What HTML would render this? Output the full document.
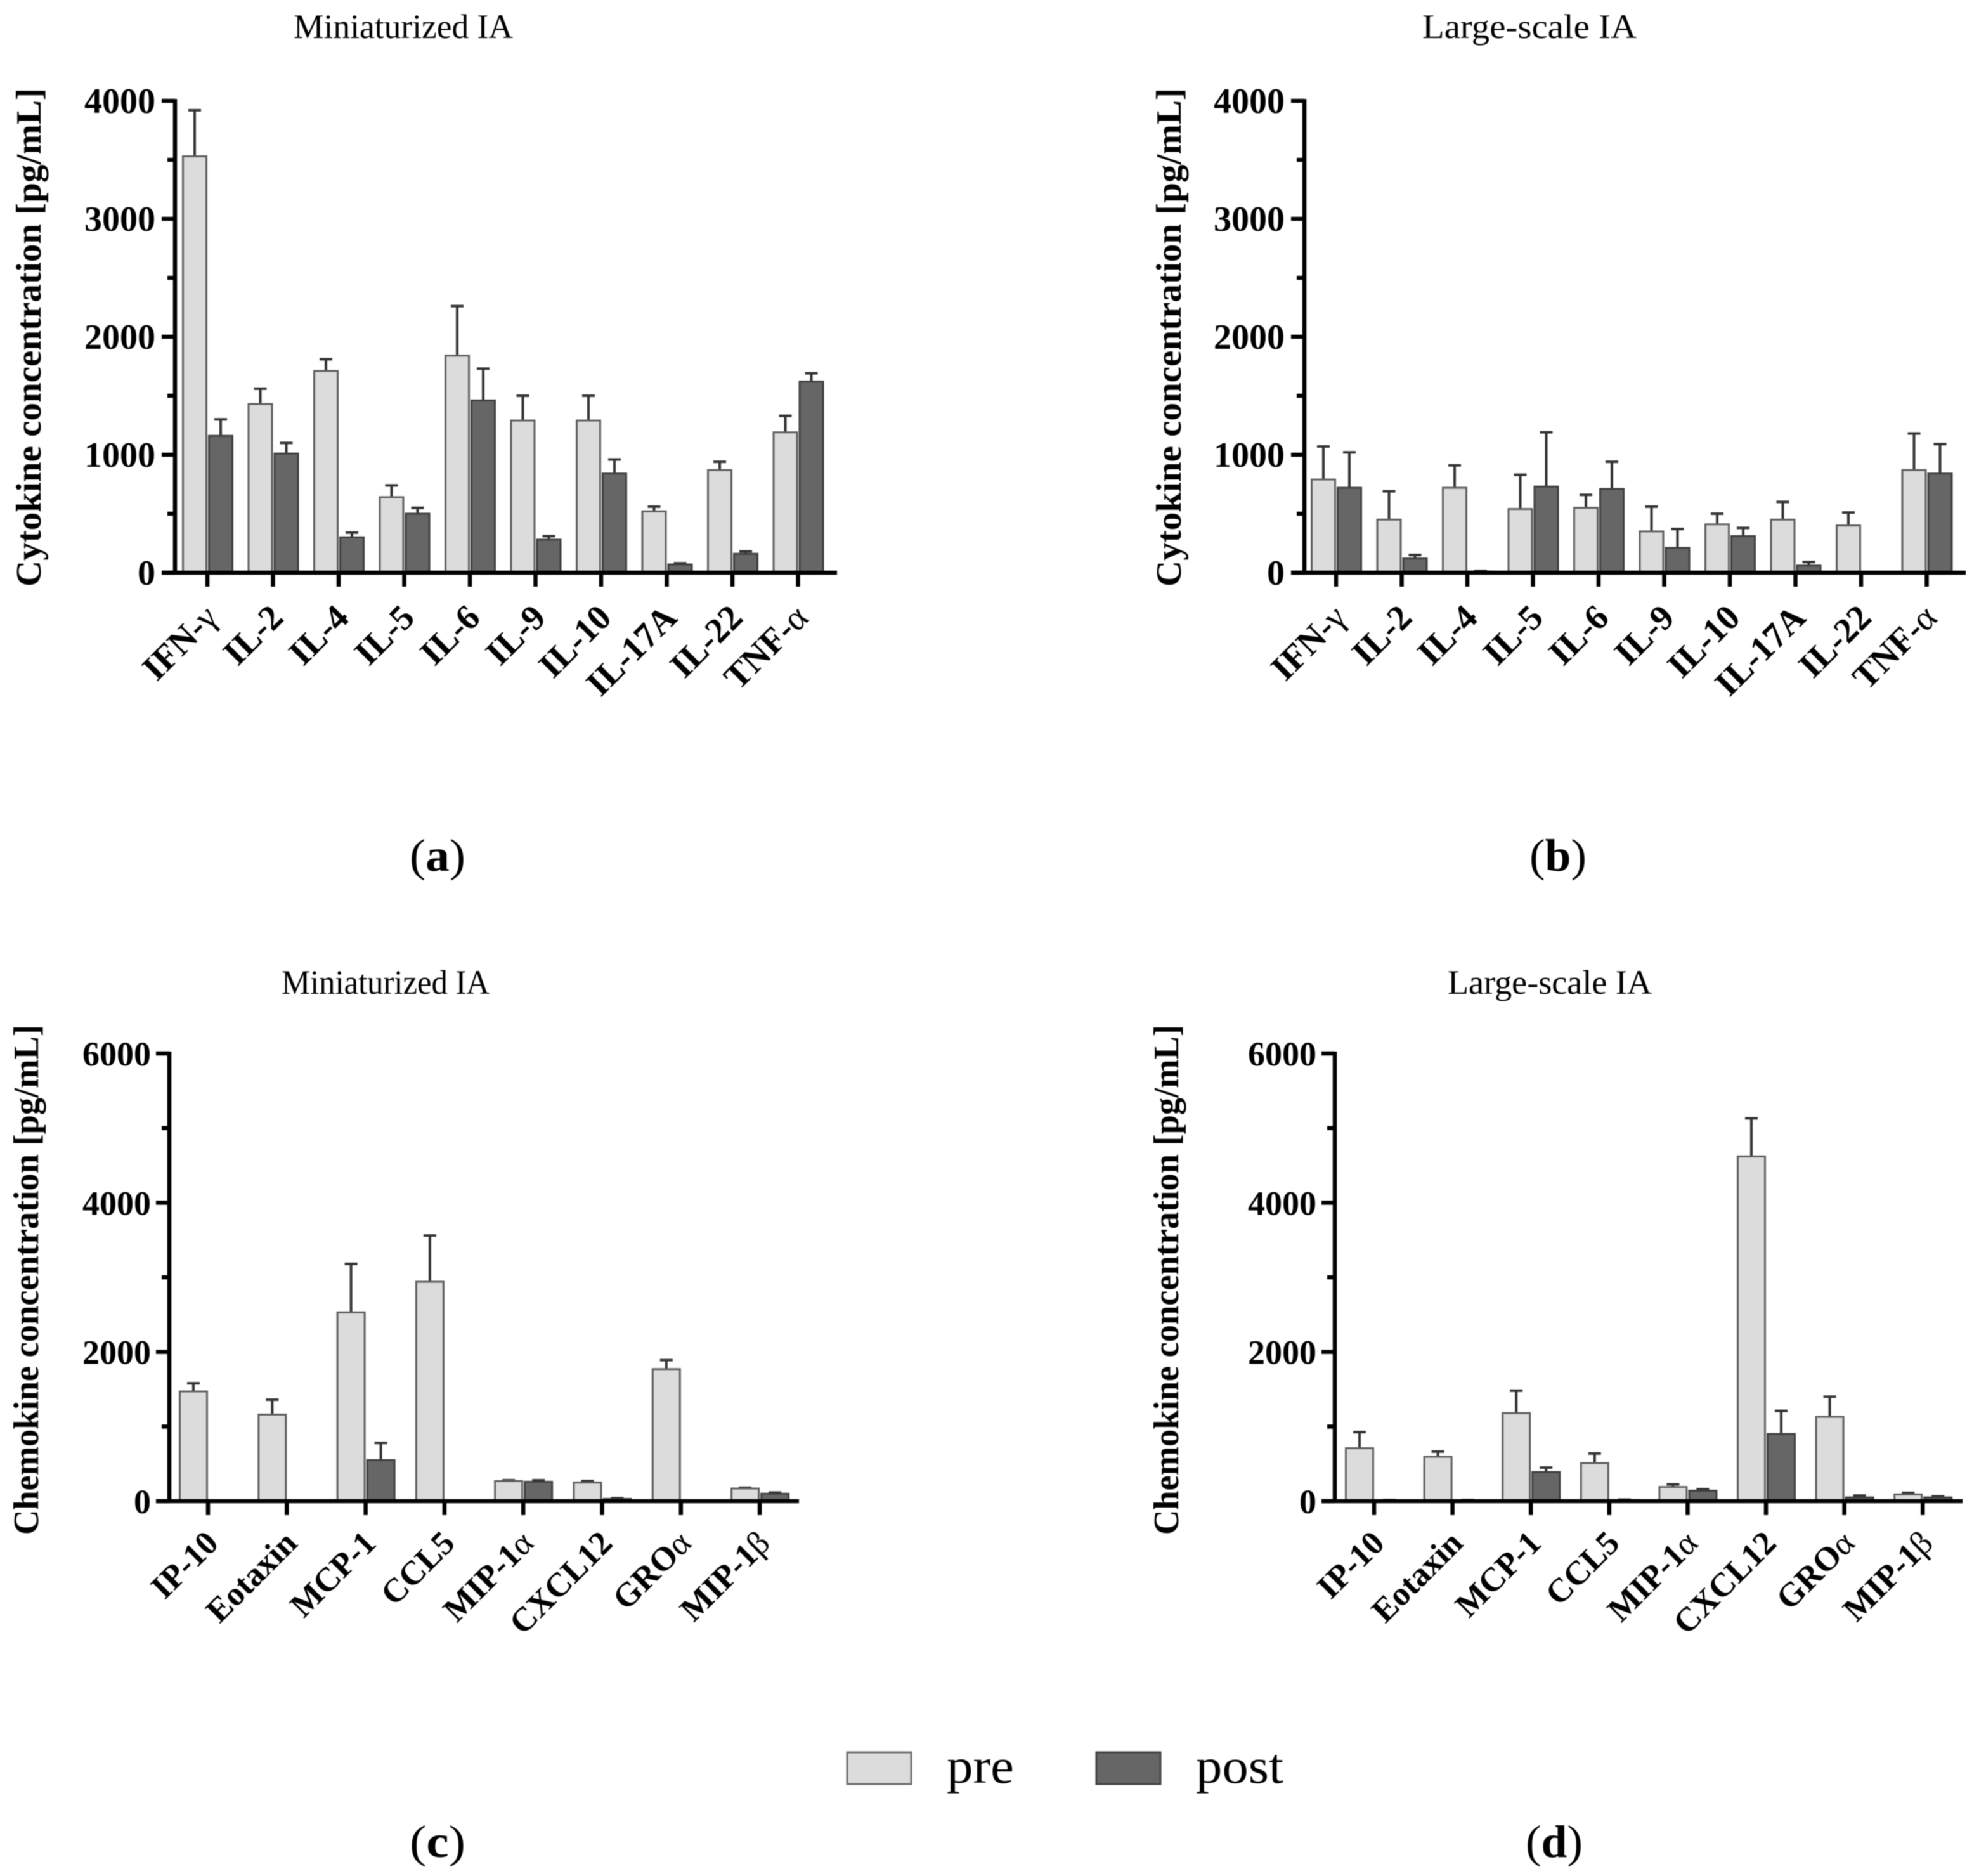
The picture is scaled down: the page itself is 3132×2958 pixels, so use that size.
<!DOCTYPE html>
<html lang="en">
<head>
<meta charset="utf-8">
<title>Cytokine and chemokine concentrations pre and post IA</title>
<style>
html,body{margin:0;padding:0;background:#fff;}
svg{display:block;filter:blur(0.7px);}
text{font-family:"Liberation Serif",serif;fill:#000;}
</style>
</head>
<body>
<svg id="figure" xmlns="http://www.w3.org/2000/svg" width="3132" height="2958" viewBox="0 0 3132 2958">
  <rect width="3132" height="2958" fill="#fff"/>
  <g>
    <rect x="1336" y="2763" width="101" height="50" fill="#dcdcdc" stroke="#6e6e6e" stroke-width="3"/>
    <text x="1493" y="2811" font-size="78" textLength="106" lengthAdjust="spacingAndGlyphs">pre</text>
    <rect x="1729" y="2763" width="101" height="50" fill="#666" stroke="#444" stroke-width="3"/>
    <text x="1886" y="2811" font-size="78" textLength="138" lengthAdjust="spacingAndGlyphs">post</text>
  </g>
  <text x="646" y="1373" font-size="72" textLength="88" lengthAdjust="spacingAndGlyphs">(<tspan font-weight="bold">a</tspan>)</text>
  <text x="2412" y="1373" font-size="72" textLength="90" lengthAdjust="spacingAndGlyphs">(<tspan font-weight="bold">b</tspan>)</text>
  <text x="646" y="2928" font-size="72" textLength="88" lengthAdjust="spacingAndGlyphs">(<tspan font-weight="bold">c</tspan>)</text>
  <text x="2406" y="2928" font-size="72" textLength="90" lengthAdjust="spacingAndGlyphs">(<tspan font-weight="bold">d</tspan>)</text>
</svg>
<script>
// ---------- data ----------
const cytokineCategories = ["IFN-γ","IL-2","IL-4","IL-5","IL-6","IL-9","IL-10","IL-17A","IL-22","TNF-α"];
const chemokineCategories = ["IP-10","Eotaxin","MCP-1","CCL5","MIP-1α","CXCL12","GROα","MIP-1β"];
const cytokineTicks = [0,1000,2000,3000,4000];
const cytokineMinorTicks = [500,1500,2500,3500];
const chemokineTicks = [0,2000,4000,6000];
const chemokineMinorTicks = [1000,3000,5000];

const miniCytoPre = [3530,1430,1710,640,1840,1290,1290,520,870,1190];
const miniCytoPreErr = [390,130,100,100,420,210,210,40,70,140];
const miniCytoPost = [1160,1010,300,500,1460,280,840,70,160,1620];
const miniCytoPostErr = [140,90,40,50,270,30,120,10,20,70];

const largeCytoPre = [790,450,720,540,550,350,410,450,400,870];
const largeCytoPreErr = [280,240,190,290,110,210,90,150,110,310];
const largeCytoPost = [720,120,10,730,710,210,310,60,0,840];
const largeCytoPostErr = [300,30,5,460,230,160,70,30,0,250];

const miniChemoPre = [1470,1160,2530,2940,270,250,1770,170];
const miniChemoPreErr = [110,200,650,620,10,20,120,10];
const miniChemoPost = [0,0,550,0,260,30,0,100];
const miniChemoPostErr = [0,0,230,0,20,10,0,15];

const largeChemoPre = [710,595,1180,510,190,4620,1130,90];
const largeChemoPreErr = [215,70,300,130,35,510,270,20];
const largeChemoPost = [10,10,390,15,140,900,50,50];
const largeChemoPostErr = [5,5,60,5,20,310,25,15];

// ---------- drawing ----------
const NS = "http://www.w3.org/2000/svg";
const figure = document.getElementById("figure");

function make(tag, attrs, parent) {
  const el = document.createElementNS(NS, tag);
  for (const k in attrs) el.setAttribute(k, attrs[k]);
  parent.appendChild(el);
  return el;
}

function slug(s) {
  return s.toLowerCase().replace(/γ/g,"gamma").replace(/α/g,"alpha").replace(/β/g,"beta").replace(/[^a-z0-9]+/g,"-");
}

function fillCategoryText(el, label) {
  // Greek letters render in the regular weight, as in the source figure
  label.split(/([γαβ])/).forEach(function (part) {
    if (!part) return;
    const span = make("tspan", {}, el);
    if (/[γαβ]/.test(part)) span.setAttribute("font-weight", "normal");
    span.textContent = part;
  });
}

function drawPanel(cfg) {
  const g = make("g", {}, figure);
  
  

  const yScale = function (v) { return cfg.y0 - (v / cfg.yMax) * (cfg.y0 - cfg.yTop); };
  const xScale = function (i) { return cfg.xFirst + i * cfg.xStep; };

  // title
  const title = make("text", {x: cfg.titleX, y: cfg.titleY, "text-anchor": "middle", "font-size": 54,
    textLength: cfg.titleLen, lengthAdjust: "spacingAndGlyphs"}, g);
  
  
  title.textContent = cfg.title;

  // y axis title
  const yt = make("text", {transform: "translate(" + cfg.yTitleX + "," + cfg.yTitleY + ") rotate(-90)",
    "text-anchor": "middle", "font-size": 56, "font-weight": "bold",
    textLength: cfg.yTitleLen, lengthAdjust: "spacingAndGlyphs"}, g);
  
  
  yt.textContent = cfg.yTitle;

  // bars + error bars
  cfg.categories.forEach(function (cat, i) {
    const tick = xScale(i);
    const series = [
      {key: "pre", v: cfg.pre[i], e: cfg.preErr[i], x: tick - cfg.barW, fill: "#dcdcdc", stroke: "#5f5f5f"},
      {key: "post", v: cfg.post[i], e: cfg.postErr[i], x: tick + 1, fill: "#666666", stroke: "#3f3f3f"}
    ];
    series.forEach(function (s) {
      if (s.v <= 0) return;
      const top = yScale(s.v);
      const cx = s.x + cfg.barW / 2;
      if (s.e > 0) {
        const errTop = yScale(s.v + s.e);
        const err = make("path", {d: "M" + cx + " " + top + "V" + errTop + "M" + (cx - 10) + " " + errTop + "H" + (cx + 10),
          fill: "none", stroke: "#333", "stroke-width": 4}, g);
        
        
      }
      const bar = make("rect", {x: s.x + 1.5, y: top, width: cfg.barW - 3, height: Math.max(cfg.y0 - top, 0),
        fill: s.fill, stroke: s.stroke, "stroke-width": 3}, g);
      
      
    });

    // x tick
    const t = make("line", {x1: tick, x2: tick, y1: cfg.y0, y2: cfg.y0 + 22, stroke: "#000", "stroke-width": 6.5}, g);
    
    

    // category label
    const ax = tick + cfg.labelDx, ay = cfg.y0 + cfg.labelDy;
    const lab = make("text", {transform: "translate(" + ax + "," + ay + ") rotate(-45)", "text-anchor": "end",
      "font-size": cfg.labelSize, "font-weight": "bold"}, g);
    
    
    fillCategoryText(lab, cat);
  });

  // axes
  const yAxis = make("line", {x1: cfg.xAxis, x2: cfg.xAxis, y1: cfg.yTop - 3, y2: cfg.y0 + 3, stroke: "#000", "stroke-width": 6.5}, g);
  
  
  const xAxis = make("line", {x1: cfg.xAxis - 21, x2: cfg.xEnd, y1: cfg.y0, y2: cfg.y0, stroke: "#000", "stroke-width": 6.5}, g);
  
  

  cfg.ticks.forEach(function (v) {
    const y = yScale(v);
    const t = make("line", {x1: cfg.xAxis - 21, x2: cfg.xAxis, y1: y, y2: y, stroke: "#000", "stroke-width": 6.5}, g);
    
    
    const l = make("text", {x: cfg.xAxis - cfg.tickGap, y: y + 19, "text-anchor": "end", "font-size": cfg.tickSize, "font-weight": "bold"}, g);
    
    
    l.textContent = String(v);
  });
  cfg.minorTicks.forEach(function (v) {
    const y = yScale(v);
    const t = make("line", {x1: cfg.xAxis - 12, x2: cfg.xAxis, y1: y, y2: y, stroke: "#000", "stroke-width": 6.5}, g);
    
    
  });
}

drawPanel({name: "chart-a-miniaturized-cytokines", title: "Miniaturized IA", titleX: 636, titleY: 60, titleLen: 346,
  yTitle: "Cytokine concentration [pg/mL]", yTitleX: 64, yTitleY: 532, yTitleLen: 786,
  categories: cytokineCategories, pre: miniCytoPre, preErr: miniCytoPreErr, post: miniCytoPost, postErr: miniCytoPostErr,
  ticks: cytokineTicks, minorTicks: cytokineMinorTicks, yMax: 4000,
  xAxis: 276, xEnd: 1320, y0: 903, yTop: 159, xFirst: 327, xStep: 103.5, barW: 40,
  tickSize: 56, tickGap: 31, labelSize: 56, labelDx: 19, labelDy: 74});

drawPanel({name: "chart-b-large-scale-cytokines", title: "Large-scale IA", titleX: 2412, titleY: 60, titleLen: 338,
  yTitle: "Cytokine concentration [pg/mL]", yTitleX: 1862, yTitleY: 532, yTitleLen: 786,
  categories: cytokineCategories, pre: largeCytoPre, preErr: largeCytoPreErr, post: largeCytoPost, postErr: largeCytoPostErr,
  ticks: cytokineTicks, minorTicks: cytokineMinorTicks, yMax: 4000,
  xAxis: 2057, xEnd: 3100, y0: 903, yTop: 159, xFirst: 2107, xStep: 103.5, barW: 40,
  tickSize: 56, tickGap: 31, labelSize: 56, labelDx: 19, labelDy: 74});

drawPanel({name: "chart-c-miniaturized-chemokines", title: "Miniaturized IA", titleX: 608, titleY: 1567, titleLen: 328,
  yTitle: "Chemokine concentration [pg/mL]", yTitleX: 60, yTitleY: 2018, yTitleLen: 804,
  categories: chemokineCategories, pre: miniChemoPre, preErr: miniChemoPreErr, post: miniChemoPost, postErr: miniChemoPostErr,
  ticks: chemokineTicks, minorTicks: chemokineMinorTicks, yMax: 6000,
  xAxis: 267, xEnd: 1260, y0: 2367, yTop: 1661, xFirst: 328, xStep: 124.3, barW: 46,
  tickSize: 54, tickGap: 29, labelSize: 53, labelDx: 19, labelDy: 69});

drawPanel({name: "chart-d-large-scale-chemokines", title: "Large-scale IA", titleX: 2444, titleY: 1567, titleLen: 322,
  yTitle: "Chemokine concentration [pg/mL]", yTitleX: 1858, yTitleY: 2018, yTitleLen: 804,
  categories: chemokineCategories, pre: largeChemoPre, preErr: largeChemoPreErr, post: largeChemoPost, postErr: largeChemoPostErr,
  ticks: chemokineTicks, minorTicks: chemokineMinorTicks, yMax: 6000,
  xAxis: 2105, xEnd: 3095, y0: 2367, yTop: 1661, xFirst: 2167, xStep: 123.6, barW: 46,
  tickSize: 54, tickGap: 29, labelSize: 53, labelDx: 19, labelDy: 69});
</script>
</body>
</html>
